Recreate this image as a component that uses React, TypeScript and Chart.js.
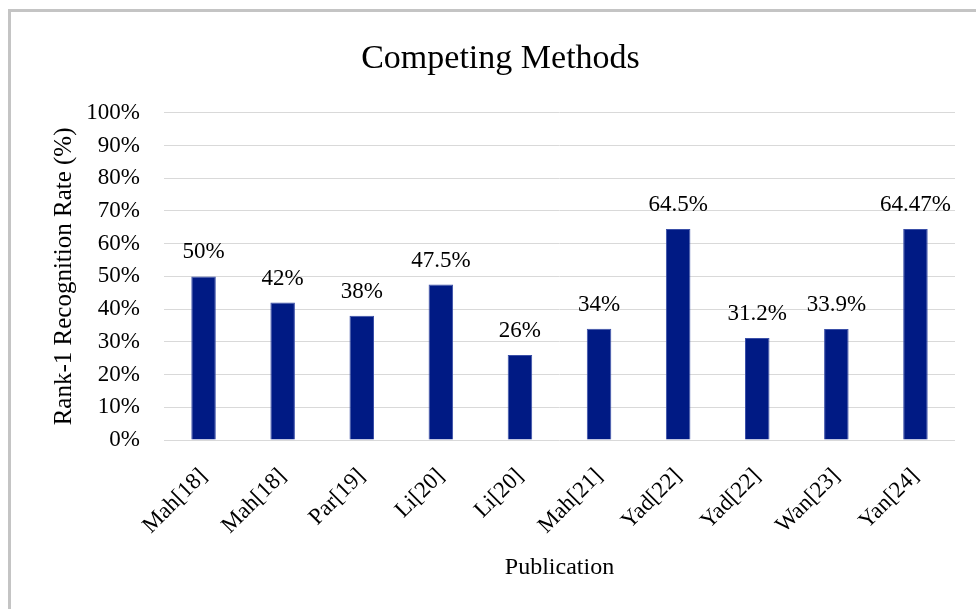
import React, { useEffect, useRef } from "react";
import { Chart, registerables } from "chart.js";

Chart.register(...registerables);

const categories = ["Mah[18]", "Mah[18]", "Par[19]", "Li[20]", "Li[20]", "Mah[21]", "Yad[22]", "Yad[22]", "Wan[23]", "Yan[24]"];
const rates = [50, 42, 38, 47.5, 26, 34, 64.5, 31.2, 33.9, 64.47];
const rateLabels = ["50%", "42%", "38%", "47.5%", "26%", "34%", "64.5%", "31.2%", "33.9%", "64.47%"];

const chartTitle = "Competing Methods";
const xTitle = "Publication";
const yTitle = "Rank-1 Recognition Rate (%)";

const FONT = "'Liberation Serif', 'Times New Roman', serif";
const BAR_COLOR = "#001a84";

const dataLabelPlugin = {
  id: "dataLabels",
  afterDatasetsDraw(chart: any) {
    const ctx = chart.ctx;
    const meta = chart.getDatasetMeta(0);
    ctx.save();
    ctx.font = `23px ${FONT}`;
    ctx.fillStyle = "#000";
    ctx.textAlign = "center";
    ctx.textBaseline = "alphabetic";
    meta.data.forEach((bar: any, i: number) => {
      ctx.fillText(rateLabels[i], bar.x, bar.y - 18);
    });
    ctx.restore();
  },
};

export default function App() {
  const ref = useRef<HTMLCanvasElement | null>(null);

  useEffect(() => {
    if (!ref.current) return;
    const chart = new Chart(ref.current, {
      type: "bar",
      data: {
        labels: categories,
        datasets: [
          {
            data: rates,
            backgroundColor: BAR_COLOR,
            borderColor: "#3a4fa8",
            borderWidth: 1,
            categoryPercentage: 1,
            barPercentage: 0.31,
          },
        ],
      },
      options: {
        responsive: false,
        animation: false,
        events: [],
        layout: { padding: { left: 46, right: 21, top: 10, bottom: 0 } },
        plugins: {
          legend: { display: false },
          tooltip: { enabled: false },
          title: {
            display: true,
            text: chartTitle,
            color: "#000",
            font: { family: FONT, size: 34, weight: "normal" },
            padding: { top: 29, bottom: 33 },
          },
        },
        scales: {
          x: {
            grid: { display: false },
            border: { display: false },
            ticks: {
              color: "#000",
              font: { family: FONT, size: 23 },
              minRotation: 45,
              maxRotation: 45,
              padding: 15,
            },
            title: {
              display: true,
              text: xTitle,
              color: "#000",
              font: { family: FONT, size: 24 },
              padding: { top: 0, bottom: 27 },
            },
            afterFit: (s: any) => {
              s.height = 169;
            },
          },
          y: {
            min: 0,
            max: 100,
            grid: { color: "#d9d9d9", lineWidth: 1, drawTicks: false },
            border: { display: false },
            ticks: {
              stepSize: 10,
              color: "#000",
              font: { family: FONT, size: 23 },
              padding: 24,
              callback: (v: any) => `${v}%`,
            },
            title: {
              display: true,
              text: yTitle,
              color: "#000",
              font: { family: FONT, size: 25 },
              padding: { top: 3, bottom: 0 },
            },
            afterFit: (s: any) => {
              s.width = 164 - 46;
            },
          },
        },
      },
      plugins: [dataLabelPlugin],
    });
    return () => chart.destroy();
  }, []);

  return (
    <div style={{ position: "fixed", left: 0, top: 0, width: 976, height: 609, overflow: "hidden", background: "#fff" }}>
      <div
        style={{
          position: "absolute",
          left: 8,
          top: 9,
          width: 2000,
          height: 2000,
          borderLeft: "3px solid #c4c4c4",
          borderTop: "3px solid #c4c4c4",
        }}
      />
      <canvas ref={ref} width={976} height={609} style={{ position: "absolute", left: 0, top: 0, display: "block" }} />
    </div>
  );
}
